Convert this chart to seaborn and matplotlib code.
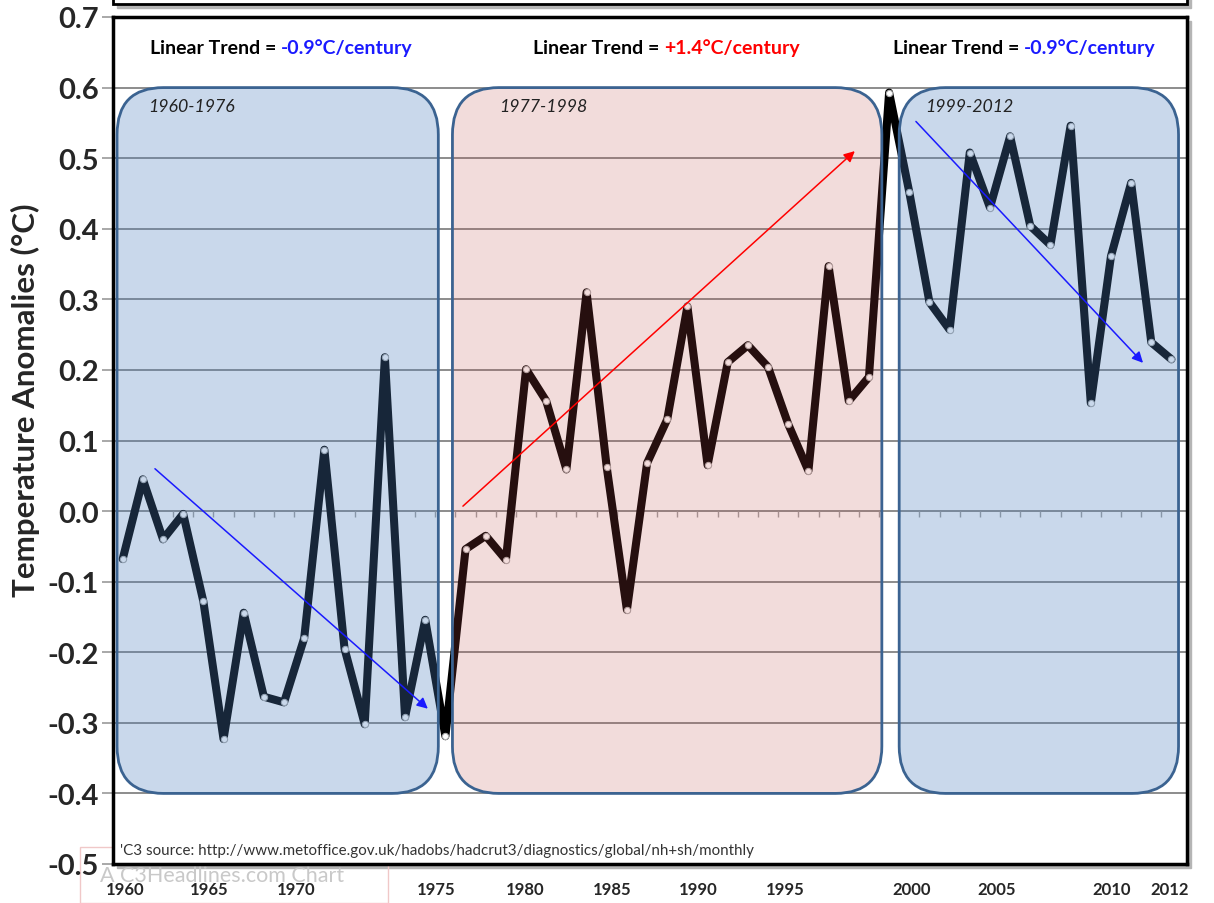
import matplotlib
matplotlib.use('Agg')
import matplotlib.pyplot as plt
from matplotlib.patches import FancyBboxPatch, Rectangle
import seaborn as sns
import pandas as pd

# 연도별 기온 편차
years = list(range(1960, 2013))
anomalies = [-0.068, 0.045, -0.040, -0.004, -0.128, -0.323, -0.144, -0.263, -0.271, -0.180,
             0.087, -0.195, -0.302, 0.218, -0.292, -0.154, -0.319,
             -0.054, -0.035, -0.069, 0.201, 0.156, 0.059, 0.310, 0.062, -0.140,
             0.068, 0.130, 0.290, 0.065, 0.211, 0.235, 0.204, 0.123, 0.057, 0.347,
             0.156, 0.190, 0.593,
             0.452, 0.296, 0.257, 0.508, 0.430, 0.531, 0.404, 0.377, 0.546, 0.153,
             0.361, 0.465, 0.239, 0.215]

# 구간 상자
periods = ['1960-1976', '1977-1998', '1999-2012']
period_start = [1959.72, 1976.35, 1998.50]
period_end = [1975.65, 1997.64, 2012.35]
period_colors = ['#4f81bd', '#c0504d', '#4f81bd']
period_alpha = [0.30, 0.20, 0.30]
period_label_x = [1961.26, 1978.66, 1999.78]

# 추세 화살표 / 문구
trend_labels = ['-0.9°C/century', '+1.4°C/century', '-0.9°C/century']
trend_colors = ['#1a1aff', '#ff0000', '#1a1aff']
trend_text_x = [1961.36, 1980.35, 1998.20]
arrow_start = [(1961.6, 0.060), (1976.87, 0.007), (1999.33, 0.552)]
arrow_end = [(1975.13, -0.280), (1996.3, 0.510), (2010.59, 0.210)]

# x축 눈금 라벨 (원본 차트의 위치 그대로)
xtick_pos = [1960.1, 1964.28, 1968.6, 1975.53, 1979.94, 1984.25, 1988.52, 1992.83,
             1999.13, 2003.35, 2009.05, 2011.93]
xtick_labels = ['1960', '1965', '1970', '1975', '1980', '1985', '1990', '1995',
                '2000', '2005', '2010', '2012']
yticks = [0.7, 0.6, 0.5, 0.4, 0.3, 0.2, 0.1, 0.0, -0.1, -0.2, -0.3, -0.4, -0.5]

df = pd.DataFrame({'year': years, 'anomaly': anomalies})

sns.set_theme(style='white')
plt.rcParams['font.family'] = ['Lato', 'DejaVu Sans']

fig = plt.figure(figsize=(12.14, 9.04), dpi=100)
ax = fig.add_axes([113 / 1214, 1 - 865 / 904, 1074 / 1214, 847 / 904])

# 그림자 + 위쪽 제목 상자 가장자리
fig.patches.append(Rectangle((117 / 1214, 1 - 869 / 904), 1074 / 1214, 847 / 904,
                             transform=fig.transFigure, color='#b5b5b5', zorder=-2))
fig.patches.append(Rectangle((117 / 1214, 1 - 9 / 904), 1074 / 1214, 0.1,
                             transform=fig.transFigure, color='#b5b5b5', zorder=-2))
fig.patches.append(Rectangle((113 / 1214, 1 - 5 / 904), 1074 / 1214, 0.1,
                             transform=fig.transFigure, facecolor='white',
                             edgecolor='black', lw=2, zorder=-1))

# 워터마크
fig.patches.append(Rectangle((80 / 1214, 0), 308 / 1214, 56 / 904, transform=fig.transFigure,
                             facecolor='none', edgecolor='#f0c8c8', lw=1, zorder=-1))
fig.text(100 / 1214, 1 - 876 / 904, 'A C3Headlines.com Chart', fontsize=15.5,
         color='#c9c9c9', va='center', ha='left', zorder=-1)

sns.lineplot(data=df, x='year', y='anomaly', ax=ax, color='black', lw=5.8,
             marker='o', markersize=4.5, markerfacecolor='white',
             markeredgecolor='#b0b0b0', markeredgewidth=0.8, zorder=3)

# 0 선의 작은 눈금
ax.vlines([y + 0.5 for y in years[:-1]], -0.009, 0, color='#a0a0a0', lw=1, zorder=2)

for name, x0, x1, c, a, lx in zip(periods, period_start, period_end, period_colors,
                                  period_alpha, period_label_x):
    box = FancyBboxPatch((x0, -0.4), x1 - x0, 1.0,
                         boxstyle='round,pad=0,rounding_size=2.3', mutation_aspect=0.029,
                         facecolor=c, alpha=a, edgecolor='none', zorder=4)
    ax.add_patch(box)
    edge = FancyBboxPatch((x0, -0.4), x1 - x0, 1.0,
                          boxstyle='round,pad=0,rounding_size=2.3', mutation_aspect=0.029,
                          facecolor='none', edgecolor='#3b6391', lw=2, zorder=4.5)
    ax.add_patch(edge)
    ax.text(lx, 0.574, name, fontsize=12.8, style='italic', color='#222222',
            va='center', ha='left', zorder=7)

for s, e, c in zip(arrow_start, arrow_end, trend_colors):
    ax.annotate('', xy=e, xytext=s,
                arrowprops=dict(arrowstyle='-|>', color=c, lw=1.1,
                                mutation_scale=16, shrinkA=0, shrinkB=0),
                zorder=6)

for tx, lab, c in zip(trend_text_x, trend_labels, trend_colors):
    t1 = ax.text(tx, 0.645, 'Linear Trend = ', fontsize=14, fontweight='bold',
                 color='black', va='bottom', ha='left', zorder=7)
    ax.annotate(lab, xy=(1, 0), xycoords=t1, fontsize=14, fontweight='bold',
                color=c, va='bottom', ha='left', zorder=7)

ax.text(0.0065, 0.0165,
        "'C3 source: http://www.metoffice.gov.uk/hadobs/hadcrut3/diagnostics/global/nh+sh/monthly",
        transform=ax.transAxes, fontsize=10.9, color='#333333', va='center', ha='left', zorder=7)

ax.set_xlim(1959.52, 2012.77)
ax.set_ylim(-0.5, 0.7)
ax.set_yticks(yticks)
ax.set_yticklabels([f'{v:.1f}' for v in yticks], fontsize=21, fontweight='bold')
ax.set_xticks(xtick_pos)
ax.set_xticklabels(xtick_labels, fontsize=12, fontweight='bold')
ax.tick_params(axis='y', length=8, width=1.2, color='#999999', pad=2, left=True)
ax.tick_params(axis='x', length=0, pad=12)

ax.grid(axis='y', color='#8c8c8c', lw=1.4)
ax.grid(axis='x', visible=False)
ax.set_axisbelow(True)

ax.set_xlabel('')
ax.set_ylabel('Temperature Anomalies (°C)', fontsize=22.5, fontweight='bold')
ax.yaxis.set_label_coords(-0.068, 0.549)

for sp in ax.spines.values():
    sp.set_color('black')
    sp.set_linewidth(2.5)
    sp.set_visible(True)

fig.savefig('out.png', dpi=100)
